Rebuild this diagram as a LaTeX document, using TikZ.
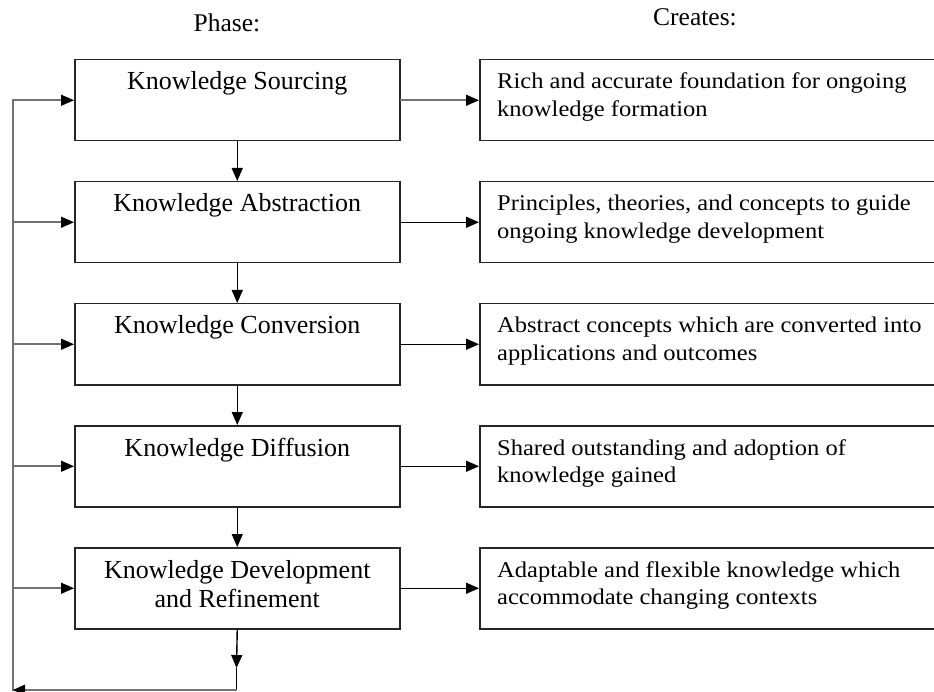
\documentclass[tikz,border=0pt]{standalone}
\usepackage{fontspec}
\setmainfont{Liberation Serif}
\newfontfamily\widefont[FakeStretch=1.09]{Liberation Serif}
\usetikzlibrary{arrows.meta}
\begin{document}
\begin{tikzpicture}[x=1pt,y=-1pt,
  phasebox/.style={draw=black!85, line width=1.5pt, minimum width=325pt,
    minimum height=81pt, inner sep=0pt, anchor=north west},
  outbox/.style={draw=black!85, line width=1.5pt, minimum width=480pt,
    minimum height=81pt, inner sep=0pt, anchor=north west},
  phasetext/.style={anchor=base, inner sep=0pt, font=\fontsize{26}{29}\selectfont},
  outtext/.style={anchor=base west, inner sep=0pt,
    font=\widefont\fontsize{22.5}{27.7}\selectfont},
  headtext/.style={anchor=base, inner sep=0pt, font=\fontsize{25.5}{29}\selectfont},
  tip/.style={-{Triangle[length=13pt,width=11pt]}},
  flow/.style={line width=1.4pt, black, tip},
  loopline/.style={line width=1.8pt, black!55, line cap=rect},
]
\useasboundingbox (0,0) rectangle (934,692);
\clip (0,0) rectangle (934,692);

% column headings
\node[headtext] (hp) at (227,32) {Phase:};
\node[headtext] (hc) at (695,26) {Creates:};

% phase boxes
\node[phasebox] (k1) at (74,59)  {};
\node[phasebox] (k2) at (74,181) {};
\node[phasebox] (k3) at (74,303) {};
\node[phasebox] (k4) at (74,425) {};
\node[phasebox] (k5) at (74,547) {};

\node[phasetext] (k1t) at ([yshift=-31pt]k1.north) {Knowledge Sourcing};
\node[phasetext] (k2t) at ([yshift=-31pt]k2.north) {Knowledge Abstraction};
\node[phasetext] (k3t) at ([yshift=-31pt]k3.north) {Knowledge Conversion};
\node[phasetext] (k4t) at ([yshift=-31pt]k4.north) {Knowledge Diffusion};
\node[phasetext] (k5t) at ([yshift=-31pt]k5.north)
  {\parbox[t]{320pt}{\centering Knowledge Development\\and Refinement}};

% outcome boxes
\node[outbox] (c1) at (479,59)  {};
\node[outbox] (c2) at (479,181) {};
\node[outbox] (c3) at (479,303) {};
\node[outbox] (c4) at (479,425) {};
\node[outbox] (c5) at (479,547) {};

\node[outtext] (c1t) at ([xshift=18pt,yshift=-30pt]c1.north west)
  {\parbox[t]{440pt}{\raggedright Rich and accurate foundation for ongoing\\knowledge formation}};
\node[outtext] (c2t) at ([xshift=18pt,yshift=-30pt]c2.north west)
  {\parbox[t]{440pt}{\raggedright Principles, theories, and concepts to guide\\ongoing knowledge development}};
\node[outtext] (c3t) at ([xshift=18pt,yshift=-30pt]c3.north west)
  {\parbox[t]{440pt}{\raggedright Abstract concepts which are converted into\\applications and outcomes}};
\node[outtext] (c4t) at ([xshift=18pt,yshift=-30pt]c4.north west)
  {\parbox[t]{440pt}{\raggedright Shared outstanding and adoption of\\knowledge gained}};
\node[outtext] (c5t) at ([xshift=18pt,yshift=-30pt]c5.north west)
  {\parbox[t]{440pt}{\raggedright Adaptable and flexible knowledge which\\accommodate changing contexts}};

% phase sequence
\draw[flow] (k1.south) -- (k2.north);
\draw[flow] (k2.south) -- (k3.north);
\draw[flow] (k3.south) -- (k4.north);
\draw[flow] (k4.south) -- (k5.north);

% phase to outcome
\draw[loopline] (k1.east) -- ([xshift=-12pt]c1.west);
\draw[flow] ([xshift=-13pt]c1.west) -- (c1.west);
\draw[flow] (k2.east) -- (c2.west);
\draw[flow] (k3.east) -- (c3.west);
\draw[flow] (k4.east) -- (c4.west);
\draw[flow] (k5.east) -- (c5.west);

% feedback loop
\coordinate (dn) at (236.5,668);
\coordinate (br) at (236.5,690);
\coordinate (bl) at (13,690);
\coordinate (l1) at (k1.west -| bl);
\coordinate (l2) at (k2.west -| bl);
\coordinate (l3) at (k3.west -| bl);
\coordinate (l4) at (k4.west -| bl);
\coordinate (l5) at (k5.west -| bl);

\draw[flow] (k5.south) -- (dn);
\draw[line width=1.4pt] (dn) -- (br);
\draw[loopline] (br) -- (bl) -- (l1);
\fill[black] (bl) -- ++(12,-5.5) -- ++(0,11) -- cycle;

\draw[loopline] (l1) -- ([xshift=-13pt]k1.west);
\draw[loopline] (l2) -- ([xshift=-13pt]k2.west);
\draw[loopline] (l3) -- ([xshift=-13pt]k3.west);
\draw[loopline] (l4) -- ([xshift=-13pt]k4.west);
\draw[loopline] (l5) -- ([xshift=-13pt]k5.west);
\draw[flow] ([xshift=-13pt]k1.west) -- (k1.west);
\draw[flow] ([xshift=-13pt]k2.west) -- (k2.west);
\draw[flow] ([xshift=-13pt]k3.west) -- (k3.west);
\draw[flow] ([xshift=-13pt]k4.west) -- (k4.west);
\draw[flow] ([xshift=-13pt]k5.west) -- (k5.west);
\end{tikzpicture}
\end{document}
